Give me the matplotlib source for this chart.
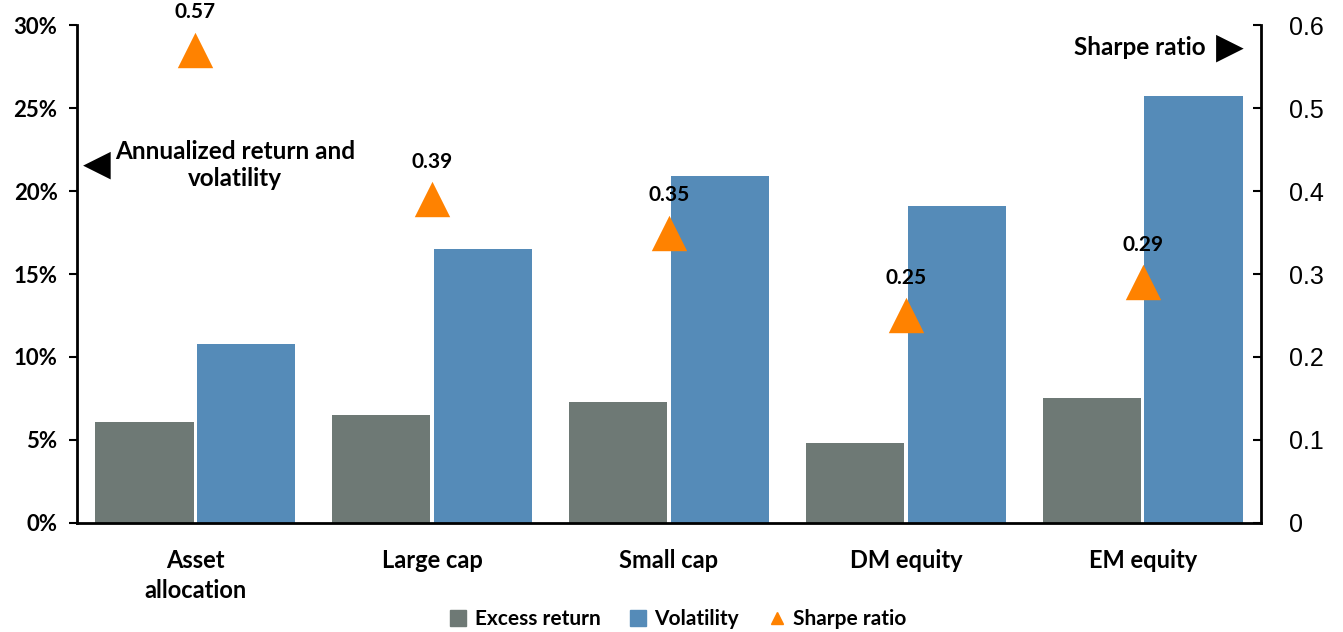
import matplotlib
matplotlib.use("Agg")
import matplotlib.pyplot as plt
import numpy as np
from matplotlib.lines import Line2D
from matplotlib.patches import Patch

# ── Data ──────────────────────────────────────────────────────────────────────
categories    = ["Asset\nallocation", "Large cap", "Small cap", "DM equity", "EM equity"]
excess_return = [6.1, 6.5, 7.3, 4.8, 7.5]
volatility    = [10.8, 16.5, 20.9, 19.1, 25.7]
sharpe        = [0.57, 0.39, 0.35, 0.25, 0.29]
left_ticks    = [0, 5, 10, 15, 20, 25, 30]
right_ticks   = [0, 0.1, 0.2, 0.3, 0.4, 0.5, 0.6]

# ── Colors ────────────────────────────────────────────────────────────────────
GREY = "#6E7975"; BLUE = "#558BB8"; ORANGE = "#FF8200"; BLACK = "#000000"
FONT = "Lato"

fig = plt.figure(figsize=(13.43, 6.32), dpi=100, facecolor="white")
ax = fig.add_axes([0.0573, 0.1725, 0.8817, 0.7879])
ax2 = ax.twinx()

x = np.arange(len(categories))
w = 0.415
ax.bar(x - 0.215, excess_return, w, color=GREY, zorder=2)
ax.bar(x + 0.215, volatility, w, color=BLUE, zorder=2)

ax.set_xlim(-0.5, 4.5)
ax.set_ylim(0, 30)
ax.set_yticks(left_ticks)
ax.set_yticklabels([f"{t}%" for t in left_ticks], fontsize=16, fontweight="bold",
                   family=FONT)
ax.set_xticks(x)
ax.set_xticklabels(categories, fontsize=17, fontweight="bold", family=FONT,
                   linespacing=1.35)
ax.tick_params(axis="x", length=0, pad=19)
ax.tick_params(axis="y", direction="out", length=6, width=1.5, pad=8)
for s in ["top", "right"]:
    ax.spines[s].set_visible(False)
ax.spines["left"].set_linewidth(2)
ax.spines["bottom"].set_linewidth(2)

ax2.set_ylim(0, 0.6)
ax2.set_yticks(right_ticks)
ax2.set_yticklabels(["0" if t == 0 else f"{t:.1f}" for t in right_ticks],
                    fontsize=18, family="Liberation Sans")
ax2.tick_params(axis="y", direction="in", length=6, width=1.5, pad=20)
for s in ["top", "left", "bottom"]:
    ax2.spines[s].set_visible(False)
ax2.spines["right"].set_linewidth(2)

ax2.scatter(x, sharpe, marker="^", s=650, color=ORANGE, zorder=3, linewidths=0)
for xi, v in zip(x, sharpe):
    ax2.annotate(f"{v:.2f}", (xi, v), xytext=(0, 20), textcoords="offset points",
                 ha="center", va="bottom", fontsize=15, fontweight="bold",
                 family=FONT)

# axis direction notes
fig.text(0.062, 0.739, "◀", fontsize=26, ha="left", va="center",
         family="DejaVu Sans")
fig.text(0.175, 0.739, "Annualized return and\nvolatility", fontsize=17.5,
         fontweight="bold", ha="center", va="center", family=FONT,
         linespacing=1.2)
fig.text(0.898, 0.925, "Sharpe ratio", fontsize=17.5, fontweight="bold",
         ha="right", va="center", family=FONT)
fig.text(0.905, 0.925, "▶", fontsize=26, ha="left", va="center",
         family="DejaVu Sans")

handles = [Patch(color=GREY, label="Excess return"),
           Patch(color=BLUE, label="Volatility"),
           Line2D([], [], marker="^", color=ORANGE, linestyle="none",
                  markersize=9, label="Sharpe ratio")]
fig.legend(handles=handles, loc="center", bbox_to_anchor=(0.505, 0.02),
           ncol=3, frameon=False, prop={"family": FONT, "weight": "bold", "size": 15},
           handlelength=0.8, handleheight=0.8, handletextpad=0.4,
           columnspacing=1.4)

fig.savefig("out.png", dpi=100, facecolor="white")
